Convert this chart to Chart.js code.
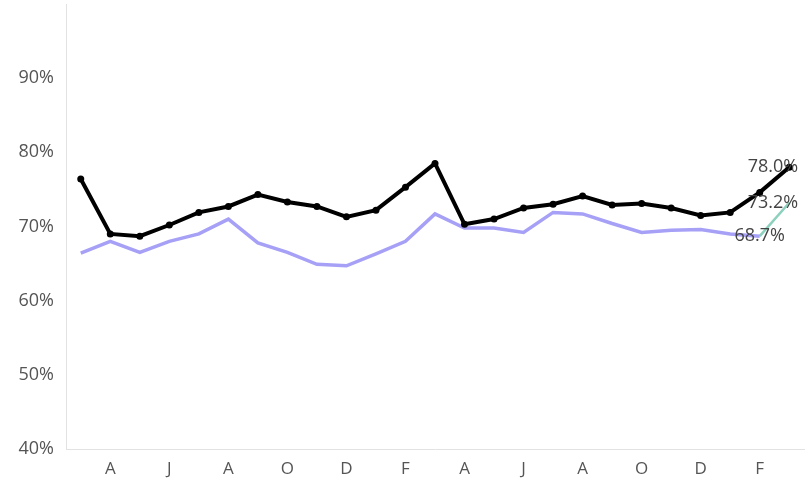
<!DOCTYPE html>
<html>
  <head>
    <title>Chart</title>
    <meta charset="UTF-8" />
    <script src="https://cdn.jsdelivr.net/npm/chart.js@4"></script>
    <style>
      html, body { margin: 0; padding: 0; background: #fff; }
      #wrap { width: 808px; height: 484px; }
    </style>
  </head>
  <body>
    <div id="wrap"><canvas id="myChart"></canvas></div>
    <script>
      // months, March to March two years later
      var months = ["M", "A", "M", "J", "J", "A", "S", "O", "N", "D", "J", "F",
                    "M", "A", "M", "J", "J", "A", "S", "O", "N", "D", "J", "F", "M"];

      var actual = [76.4, 69.0, 68.7, 70.2, 71.9, 72.7, 74.3, 73.3, 72.7, 71.3, 72.2, 75.3,
                    78.5, 70.3, 71.0, 72.5, 73.0, 74.1, 72.9, 73.1, 72.5, 71.5, 71.9, 74.6, 78.0];

      var baseline = [66.4, 68.0, 66.5, 68.0, 69.0, 71.0, 67.8, 66.5, 64.9, 64.7, 66.3, 68.0,
                      71.7, 69.8, 69.8, 69.2, 71.9, 71.7, 70.4, 69.2, 69.5, 69.6, 69.0, 68.7, null];

      var projected = [null, null, null, null, null, null, null, null, null, null, null, null,
                       null, null, null, null, null, null, null, null, null, null, null, 68.7, 73.2];

      var yTicks = [40, 50, 60, 70, 80, 90];

      // write the last value of each line next to its point
      var endLabels = {
        id: "endLabels",
        afterDatasetsDraw: function(chart) {
          var ctx = chart.ctx;
          ctx.save();
          ctx.font = "18px 'Open Sans'";
          ctx.fillStyle = "#444";
          ctx.textBaseline = "middle";
          chart.data.datasets.forEach(function(ds, i) {
            var idx = -1;
            for (var k = ds.data.length - 1; k >= 0; k--) {
              if (ds.data[k] != null) { idx = k; break; }
            }
            if (idx < 0) return;
            var pt = chart.getDatasetMeta(i).data[idx];
            ctx.textAlign = ds.labelAlign;
            ctx.fillText(ds.data[idx].toFixed(1) + "%", pt.x + ds.labelShift, pt.y);
          });
          ctx.restore();
        }
      };

      var ctx = document.getElementById("myChart").getContext("2d");
      var chart = new Chart(ctx, {
        type: "line",
        data: {
          labels: months,
          datasets: [
            {
              data: actual,
              borderColor: "#000",
              backgroundColor: "#000",
              borderWidth: 4,
              pointRadius: 3.5,
              pointBackgroundColor: "#000",
              pointBorderWidth: 0,
              labelAlign: "right",
              labelShift: 9
            },
            {
              data: baseline,
              borderColor: "rgb(166,160,246)",
              borderWidth: 3.5,
              pointRadius: 0,
              labelAlign: "center",
              labelShift: 0
            },
            {
              data: projected,
              borderColor: "rgb(140,208,190)",
              borderWidth: 2.5,
              pointRadius: 0,
              labelAlign: "right",
              labelShift: 9
            }
          ]
        },
        options: {
          responsive: true,
          maintainAspectRatio: false,
          animation: false,
          events: [],
          layout: { padding: { top: 4, left: 0, right: 0, bottom: 0 } },
          plugins: { legend: { display: false }, tooltip: { enabled: false } },
          elements: { line: { tension: 0 } },
          scales: {
            x: {
              offset: true,
              grid: { display: false, drawTicks: false },
              border: { display: true, color: "#e2e2e2" },
              ticks: {
                autoSkip: false,
                maxRotation: 0,
                padding: 10,
                color: "#555",
                font: { family: "'Open Sans'", size: 17 },
                callback: function(v, i) { return i % 2 === 1 ? months[i] : ""; }
              },
              afterFit: function(s) { s.height = 35; }
            },
            y: {
              min: 40,
              max: 100,
              afterBuildTicks: function(s) {
                s.ticks = yTicks.map(function(v) { return { value: v }; });
              },
              grid: { display: false, drawTicks: false },
              border: { display: true, color: "#e2e2e2" },
              ticks: {
                padding: 12,
                color: "#555",
                font: { family: "'Open Sans'", size: 18 },
                callback: function(v) { return v + "%"; }
              },
              afterFit: function(s) {
                s.width = 66;
                s.paddingTop = 0;
                s.paddingBottom = 0;
              }
            }
          }
        },
        plugins: [endLabels]
      });
    </script>
  </body>
</html>
